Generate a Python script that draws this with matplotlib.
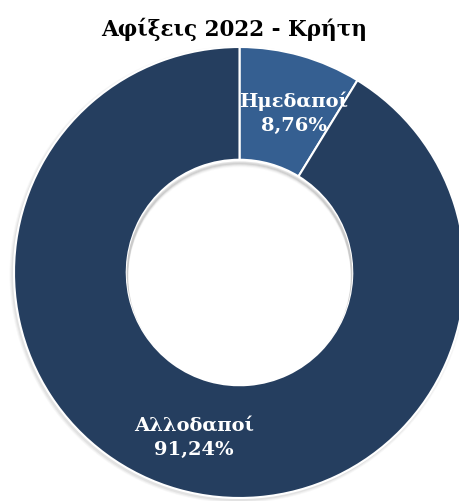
import matplotlib
matplotlib.use("Agg")
import matplotlib.pyplot as plt
from matplotlib.patches import Circle

W, H, DPI = 459, 502, 100
NAVY, STEEL = "#253e5f", "#355f91"

labels = ["Ημεδαποί", "Αλλοδαποί"]
shares = [8.76, 91.24]
colors = [STEEL, NAVY]
title = "Αφίξεις 2022 - Κρήτη"

plt.rcParams["font.family"] = ["DejaVu Serif"]

fig = plt.figure(figsize=(W / DPI, H / DPI), dpi=DPI)
ax = fig.add_axes([0, 0, 1, 1])

cx, cy, R = 239.5, H - 273.5, 225.5
ring = 0.5 * R

# soft drop shadow under the ring
for k, a in enumerate([0.10, 0.08, 0.06]):
    ax.add_patch(Circle((cx - 1.5, cy - 2.0), R + 1 + k, color="#808080", alpha=a, lw=0, zorder=0))
ax.add_patch(Circle((cx, cy), R - ring, color="white", lw=0, zorder=0.5))

wedges, _ = ax.pie(shares, colors=colors, startangle=90, counterclock=False,
                   center=(cx, cy), radius=R,
                   wedgeprops=dict(width=ring, edgecolor="white", linewidth=1.5))
for w in wedges:
    w.set_zorder(1)

# inner shadow along the top of the hole
hole = Circle((cx, cy), R - ring, transform=ax.transData)
for k, a in enumerate([0.18, 0.12, 0.07, 0.04]):
    sh = Circle((cx, cy - 3 - k), R - ring, fill=False, ec="#707070", lw=2, alpha=a, zorder=2)
    ax.add_patch(sh)
    sh.set_clip_path(hole)

ax.set_xlim(0, W)
ax.set_ylim(0, H)
ax.set_aspect("equal")
ax.axis("off")

def pct(v):
    return f"{v:.2f}".replace(".", ",") + "%"

ax.text(294, H - 113, f"{labels[0]}\n{pct(shares[0])}", color="white", fontsize=14,
        fontweight="bold", ha="center", va="center", linespacing=1.45, zorder=3)
ax.text(194, H - 438, f"{labels[1]}\n{pct(shares[1])}", color="white", fontsize=14,
        fontweight="bold", ha="center", va="center", linespacing=1.45, zorder=3)

ax.text(234, H - 29, title, color="black", fontsize=15.5, fontweight="bold",
        ha="center", va="center", zorder=3)

fig.savefig("out.png", dpi=DPI)
